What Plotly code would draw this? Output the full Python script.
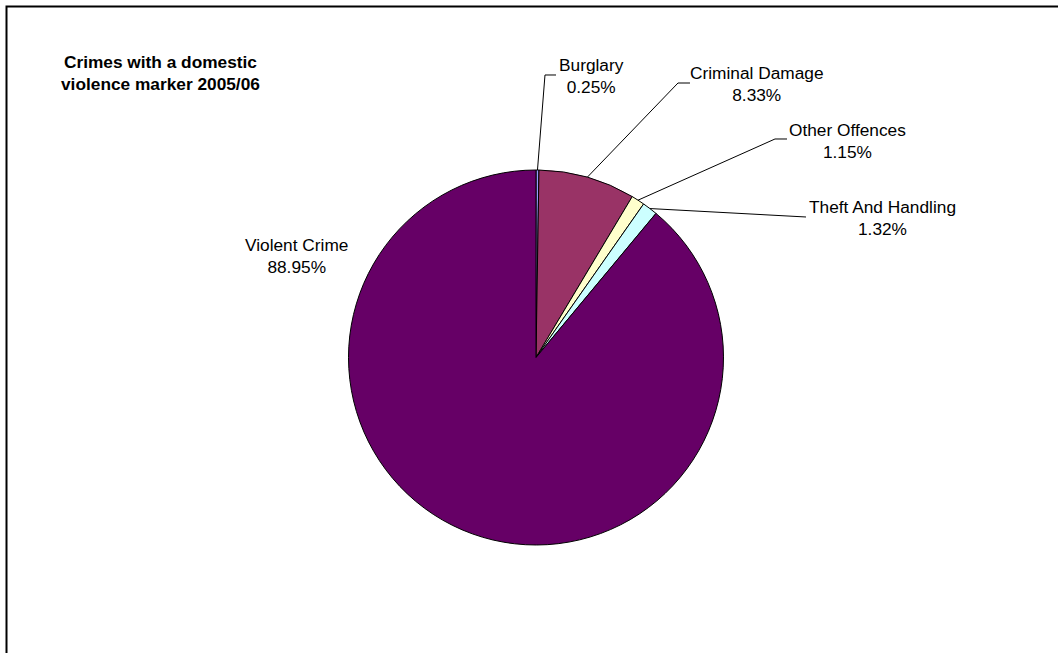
import math
import plotly.graph_objects as go

# ---- data ----
categories = ["Burglary", "Criminal Damage", "Other Offences", "Theft And Handling", "Violent Crime"]
shares = [0.25, 8.33, 1.15, 1.32, 88.95]
share_labels = ["0.25%", "8.33%", "1.15%", "1.32%", "88.95%"]
colors = ["#9999FF", "#993366", "#FFFFCC", "#CCFFFF", "#660066"]
title_text = "<b>Crimes with a domestic<br>violence marker 2005/06</b>"

# ---- layout constants (pixels) ----
W, H = 1058, 653
CX, CY, R = 536, 357.5, 187.5
# label centres and leader elbow/end points (None = no leader)
label_pos = [(591, 76), (757, 84), (847.5, 141), (882, 218), (296, 256)]
leader_pts = [[(545, 75), (556, 75)],
              [(678, 83), (690, 83)],
              [(775, 139), (787, 139)],
              [(806, 217)],
              None]

def px(x):
    return x / W

def py(y):
    return 1 - y / H

fig = go.Figure()
fig.add_trace(go.Pie(
    labels=categories, values=shares, sort=False, direction="clockwise", rotation=0,
    marker=dict(colors=colors, line=dict(color="black", width=1)),
    textinfo="none", showlegend=False,
    domain=dict(x=[px(CX - R), px(CX + R)], y=[py(CY + R), py(CY - R)]),
))

shapes = []
# frame (only top and left visible in the picture)
shapes.append(dict(type="rect", xref="paper", yref="paper",
                   x0=px(6.5), x1=1.1, y0=-0.1, y1=py(6.5),
                   line=dict(color="black", width=2), fillcolor="rgba(0,0,0,0)"))

annotations = [dict(text=title_text, x=px(160), y=py(72.5), xref="paper", yref="paper",
                    showarrow=False, xanchor="center", yanchor="middle", align="center",
                    font=dict(family="Liberation Sans, Arial", size=17.3, color="black"))]

total = sum(shares)
cum = 0.0
for i, (cat, v) in enumerate(zip(categories, shares)):
    mid = (cum + v / 2) / total * 2 * math.pi
    cum += v
    sx = CX + R * math.sin(mid)
    sy = CY - R * math.cos(mid)
    if leader_pts[i] is not None:
        pts = [(sx, sy)] + leader_pts[i]
        path = "M " + " L ".join(f"{px(a):.5f},{py(b):.5f}" for a, b in pts)
        shapes.append(dict(type="path", xref="paper", yref="paper", path=path,
                           line=dict(color="black", width=1)))
    lx, ly = label_pos[i]
    annotations.append(dict(text=f"{cat}<br>{share_labels[i]}", x=px(lx), y=py(ly),
                            xref="paper", yref="paper", showarrow=False,
                            xanchor="center", yanchor="middle", align="center",
                            font=dict(family="Liberation Sans, Arial", size=17.3, color="black")))

fig.update_layout(width=W, height=H, margin=dict(l=0, r=0, t=0, b=0),
                  paper_bgcolor="white", plot_bgcolor="white",
                  shapes=shapes, annotations=annotations)

fig.write_html("out.html")
